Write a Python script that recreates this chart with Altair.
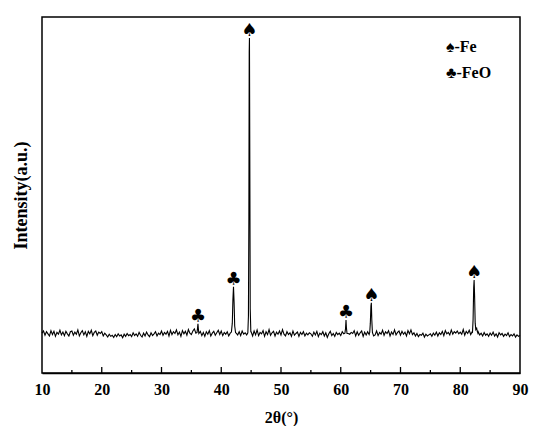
import altair as alt
import pandas as pd

# ---------------- data ----------------
x_start = 10.0
x_step = 0.25
baseline = [
    112,118,106,116,110,104,119,108,117,103,114,109,120,107,115,105,117,110,104,116,
    118,106,115,109,121,104,113,119,107,116,103,117,110,120,105,114,118,106,115,111,
    116,104,112,107,101,109,103,106,100,108,102,110,104,107,99,109,103,111,105,108,
    102,113,105,110,103,114,106,101,112,104,115,107,102,113,105,110,116,104,112,108,
    118,106,114,109,117,104,120,108,116,111,121,107,115,103,119,110,117,106,122,112,
    108,118,124,112,113,111,117,105,114,103,116,109,119,104,112,117,106,113,120,108,
    118,105,114,109,116,104,112,118,110,115,112,107,116,105,118,109,113,107,112,110,
    116,104,118,107,121,105,114,110,119,103,116,108,122,106,113,117,104,115,109,118,
    107,122,109,104,116,108,113,103,118,106,111,115,103,114,108,116,104,112,107,113,
    110,103,115,107,117,102,112,108,116,104,113,100,110,117,105,111,103,114,108,112,
    105,116,110,104,112,111,109,114,111,119,104,116,106,113,118,103,115,107,116,108,
    110,117,104,107,118,105,114,109,120,106,116,111,119,104,115,108,121,107,114,118,
    106,117,109,115,104,119,110,121,108,113,104,111,102,108,106,112,101,109,104,107,
    110,103,112,106,115,104,113,108,117,105,119,110,114,107,121,109,116,112,118,110,
    115,109,122,106,117,111,120,108,116,122,113,105,116,107,112,104,114,106,110,103,
    112,106,115,104,110,101,113,107,111,103,109,105,113,102,108,104,110,101,107,103,
    105,
]

peak_36_x = [35.95, 36.03, 36.1, 36.17, 36.25]
peak_36_y = [114, 126, 138, 124, 111]
peak_42_x = [41.7, 41.85, 41.95, 42.05, 42.15, 42.25, 42.4]
peak_42_y = [115, 140, 205, 242, 198, 132, 113]
peak_44_x = [44.45, 44.55, 44.62, 44.68, 44.72, 44.78, 44.85, 44.95]
peak_44_y = [113, 160, 430, 900, 941, 600, 180, 116]
peak_61_x = [60.7, 60.8, 60.88, 60.95, 61.05]
peak_61_y = [112, 125, 149, 127, 111]
peak_65_x = [64.85, 64.95, 65.05, 65.12, 65.2, 65.3]
peak_65_y = [114, 140, 188, 197, 148, 114]
peak_82_x = [82.05, 82.15, 82.25, 82.32, 82.4, 82.5, 82.6, 82.75, 82.85, 82.95]
peak_82_y = [115, 150, 240, 261, 218, 140, 122, 126, 117, 112]

marker_x = [36.1, 42.05, 44.7, 60.88, 65.12, 82.32]
marker_y = [138, 242, 941, 149, 197, 261]
marker_sym = ["\u2663", "\u2663", "\u2660", "\u2663", "\u2660", "\u2660"]

legend_text = ["\u2660-Fe", "\u2663-FeO"]

x_ticks_major = [20, 30, 40, 50, 60, 70, 80]
x_ticks_minor = [15, 25, 35, 45, 55, 65, 75, 85]
x_labels = [10, 20, 30, 40, 50, 60, 70, 80, 90]

# ---------------- build table ----------------
bx = [round(x_start + i * x_step, 2) for i in range(len(baseline))]
peaks = [
    (peak_36_x, peak_36_y), (peak_42_x, peak_42_y), (peak_44_x, peak_44_y),
    (peak_61_x, peak_61_y), (peak_65_x, peak_65_y), (peak_82_x, peak_82_y),
]
rows = []
for xv, yv in zip(bx, baseline):
    if any(min(px) <= xv <= max(px) for px, _ in peaks):
        continue
    rows.append((xv, yv))
for px, py in peaks:
    rows.extend(zip(px, py))
rows.sort()
df = pd.DataFrame(rows, columns=["x", "y"])

markers = pd.DataFrame({"x": marker_x, "y": marker_y, "s": marker_sym})
ticks_major = pd.DataFrame({"x": x_ticks_major})
ticks_minor = pd.DataFrame({"x": x_ticks_minor})
legend_df = pd.DataFrame({"t": legend_text, "py": [30, 56]})

W, H = 478, 356
SERIF = "Liberation Serif"

xscale = alt.Scale(domain=[10, 90], nice=False, zero=False)
yscale = alt.Scale(domain=[0, 1000], nice=False)

line = alt.Chart(df).mark_line(color="black", strokeWidth=1.1).encode(
    x=alt.X("x:Q", scale=xscale,
            axis=alt.Axis(values=x_labels, ticks=False, labelFlush=False,
                          title="2\u03b8(\u00b0)", labelPadding=8, titlePadding=12,
                          grid=False, format="d")),
    y=alt.Y("y:Q", scale=yscale,
            axis=alt.Axis(labels=False, ticks=False, grid=False, domain=False,
                          title="Intensity(a.u.)", titlePadding=12)),
)

mk = alt.Chart(markers).mark_text(
    font="DejaVu Sans", fontSize=18, baseline="bottom", color="black", dy=2
).encode(x="x:Q", y="y:Q", text="s:N")

tk1 = alt.Chart(ticks_major).mark_rule(color="black", strokeWidth=1.3).encode(
    x="x:Q", y=alt.value(H), y2=alt.value(H - 6),
)
tk2 = alt.Chart(ticks_minor).mark_rule(color="black", strokeWidth=1.3).encode(
    x="x:Q", y=alt.value(H), y2=alt.value(H - 3),
)

leg = alt.Chart(legend_df).mark_text(
    font=SERIF, fontWeight="bold", fontSize=16, align="left", baseline="middle", color="black"
).encode(x=alt.value(404), y=alt.Y("py:Q", scale=None), text="t:N")

chart = alt.layer(line, tk1, tk2, mk, leg).properties(
    width=W, height=H,
    autosize=alt.AutoSizeParams(type="none"),
    padding={"left": 34, "top": 9, "right": 22, "bottom": 53},
).configure_view(
    stroke="black", strokeWidth=1.5
).configure_axis(
    labelFont=SERIF, labelFontWeight="bold", labelFontSize=16, labelColor="black",
    titleFont=SERIF, titleFontWeight="bold", titleColor="black",
    domainColor="black", domainWidth=1.5,
).configure_axisX(titleFontSize=16).configure_axisY(titleFontSize=18)

chart.save("out.html", embed_options={"renderer": "svg", "actions": False})
